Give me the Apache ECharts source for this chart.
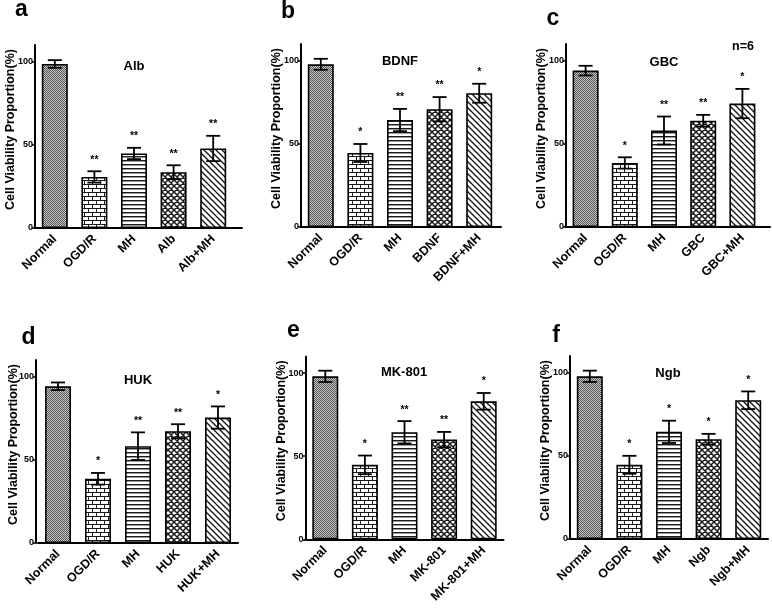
<!DOCTYPE html>
<html><head><meta charset="utf-8">
<script src="https://cdn.jsdelivr.net/npm/echarts@6/dist/echarts.min.js"></script>
<style>html,body{margin:0;padding:0;background:#fff}#c{width:772px;height:609px}</style>
</head><body><div id="c"></div>
<script>
// ---------- data ----------
const catsA = ['Normal','OGD/R','MH','Alb','Alb+MH'];
const meanA = [98.6, 30.7, 44.8, 33.5, 47.8];
const semA  = [2.3, 3.4, 3.4, 4.2, 7.6];
const starsA = ['', '**', '**', '**', '**'];

const catsB = ['Normal','OGD/R','MH','BDNF','BDNF+MH'];
const meanB = [97.8, 44.5, 64.3, 70.8, 80.4];
const semB  = [3.3, 5.4, 6.7, 7.3, 5.7];
const starsB = ['', '*', '**', '**', '*'];

const catsC = ['Normal','OGD/R','MH','GBC','GBC+MH'];
const meanC = [94.0, 38.5, 58.0, 63.9, 74.2];
const semC  = [2.9, 3.4, 8.4, 3.5, 8.8];
const starsC = ['', '*', '**', '**', '*'];

const catsD = ['Normal','OGD/R','MH','HUK','HUK+MH'];
const meanD = [94.2, 38.6, 58.2, 67.2, 75.4];
const semD  = [2.3, 3.5, 8.3, 4.2, 6.7];
const starsD = ['', '*', '**', '**', '*'];

const catsE = ['Normal','OGD/R','MH','MK-801','MK-801+MH'];
const meanE = [98.0, 44.8, 64.4, 60.0, 83.0];
const semE  = [3.4, 5.6, 6.7, 4.6, 5.0];
const starsE = ['', '*', '**', '**', '*'];

const catsF = ['Normal','OGD/R','MH','Ngb','Ngb+MH'];
const meanF = [97.8, 44.6, 64.4, 60.0, 83.4];
const semF  = [3.4, 5.4, 6.7, 3.2, 5.3];
const starsF = ['', '*', '*', '*', '*'];

const panelTitles = ['Alb','BDNF','GBC','HUK','MK-801','Ngb'];
const panelLetters = ['a','b','c','d','e','f'];
const yTicks = [0, 50, 100];
const yAxisName = 'Cell Viability Proportion(%)';
const noteText = 'n=6';

// ---------- patterns ----------
function mk(w, h, draw){
  const c = document.createElement('canvas'); c.width = w; c.height = h;
  const g = c.getContext('2d'); g.fillStyle = '#fff'; g.fillRect(0,0,w,h); draw(g, w, h);
  return {image: c, repeat: 'repeat'};
}
const patNormal = mk(2, 2, g => { g.fillStyle='#555'; g.fillRect(0,0,1,1); g.fillRect(1,1,1,1); g.fillStyle='#c8c8c8'; g.fillRect(1,0,1,1); g.fillRect(0,1,1,1); });
const patBrick = mk(8, 8, g => { g.fillStyle='#1a1a1a'; g.fillRect(0,0,8,1); g.fillRect(0,4,8,1); g.fillRect(0,0,1,4); g.fillRect(4,4,1,4); });
const patHoriz = mk(4, 4, g => { g.fillStyle='#1a1a1a'; g.fillRect(0,0,4,1); g.fillStyle='#999'; g.fillRect(0,1,4,1); });
const patCross = mk(6, 6, g => { g.strokeStyle='#1a1a1a'; g.lineWidth=1.5; g.beginPath();
  g.moveTo(-1,-1); g.lineTo(7,7); g.moveTo(-4,2); g.lineTo(2,8); g.moveTo(2,-4); g.lineTo(8,2);
  g.moveTo(7,-1); g.lineTo(-1,7); g.moveTo(10,2); g.lineTo(4,8); g.moveTo(4,-4); g.lineTo(-2,2); g.stroke(); });
const patDiag = mk(6, 6, g => { g.strokeStyle='#111'; g.lineWidth=1.3; g.beginPath(); g.moveTo(-1,-1); g.lineTo(7,7); g.moveTo(-4,2); g.lineTo(2,8); g.moveTo(2,-4); g.lineTo(8,2); g.stroke(); });
const patterns = [patNormal, patBrick, patHoriz, patCross, patDiag];

// ---------- layout ----------
const panels = [
  {cats: catsA, mean: meanA, sem: semA, stars: starsA},
  {cats: catsB, mean: meanB, sem: semB, stars: starsB},
  {cats: catsC, mean: meanC, sem: semC, stars: starsC},
  {cats: catsD, mean: meanD, sem: semD, stars: starsD},
  {cats: catsE, mean: meanE, sem: semE, stars: starsE},
  {cats: catsF, mean: meanF, sem: semF, stars: starsF}
];
const grids = [
  {left: 35,    top: 45,    width: 198, height: 183, yOff: 0, ext: 9},
  {left: 301,   top: 44,    width: 198, height: 183, yOff: 0, ext: 2},
  {left: 566,   top: 44,    width: 196, height: 183, yOff: 0, ext: 8},
  {left: 38,    top: 360,   width: 200, height: 183, yOff: 2, ext: 0},
  {left: 305.5, top: 356.4, width: 198, height: 183, yOff: 0, ext: 1.5},
  {left: 570,   top: 356,   width: 198, height: 183, yOff: 0, ext: 0}
];
const titlePos = [[134,66],[400,61],[664,62],[138,380],[404,372],[668,373]];
const letterPos = [[21.5,10],[288,12],[553,19],[28.5,338],[293.5,331],[556,336]];

const FONT = '"Liberation Sans", Arial, sans-serif';
const option = {
  animation: false,
  backgroundColor: '#fff',
  grid: [], xAxis: [], yAxis: [], series: [], graphic: []
};

panels.forEach((p, i) => {
  const g = grids[i];
  option.grid.push({left: g.left, top: g.top, width: g.width, height: g.height, containLabel: false});
  option.xAxis.push({
    type: 'category', gridIndex: i, data: p.cats,
    axisLine: {lineStyle: {color: '#000', width: 2}},
    axisTick: {alignWithLabel: true, length: 3, lineStyle: {color: '#000', width: 1.5}},
    axisLabel: {rotate: 45, fontSize: 12.5, fontWeight: 'bold', color: '#000', fontFamily: FONT, margin: 9, interval: 0},
    splitLine: {show: false}
  });
  option.yAxis.push({
    type: 'value', gridIndex: i, min: 0, max: 110, offset: g.yOff,
    name: yAxisName, nameLocation: 'middle', nameGap: 17.5 - g.yOff, nameMoveOverlap: false,
    nameTextStyle: {fontSize: 12.5, fontWeight: 'bold', color: '#000', fontFamily: FONT, padding: [0,0,0,14]},
    axisLine: {show: true, lineStyle: {color: '#000', width: 2}},
    axisTick: {show: true, length: 3, customValues: yTicks, lineStyle: {color: '#000', width: 1.5}},
    axisLabel: {fontSize: 9, fontWeight: 'bold', color: '#000', fontFamily: FONT, margin: 2, customValues: yTicks},
    splitLine: {show: false}
  });
  option.series.push({
    type: 'bar', xAxisIndex: i, yAxisIndex: i, barWidth: 26,
    data: p.mean.map((v, k) => ({value: v, itemStyle: {color: patterns[k], borderColor: '#000', borderWidth: 1.6}})),
    z: 2
  });
  const stars = p.stars;
  option.series.push({
    type: 'custom', xAxisIndex: i, yAxisIndex: i, z: 5,
    data: p.mean.map((v, k) => [k, v - p.sem[k], v + p.sem[k]]),
    renderItem: (params, api) => {
      const x = api.value(0), lo = api.value(1), hi = api.value(2);
      const a = api.coord([x, hi]), b = api.coord([x, lo]);
      const hw = 7;
      const st = {stroke: '#000', lineWidth: 1.8};
      const ch = [
        {type: 'line', shape: {x1: a[0], y1: a[1], x2: b[0], y2: b[1]}, style: st},
        {type: 'line', shape: {x1: a[0]-hw, y1: a[1], x2: a[0]+hw, y2: a[1]}, style: st},
        {type: 'line', shape: {x1: b[0]-hw, y1: b[1], x2: b[0]+hw, y2: b[1]}, style: st}
      ];
      const s = stars[params.dataIndex];
      if (s) ch.push({type: 'text', x: a[0], y: a[1] - 6, style: {text: s, fill: '#000', font: 'bold 10.5px ' + FONT, align: 'center', verticalAlign: 'bottom'}});
      return {type: 'group', children: ch};
    }
  });
  option.graphic.push({type: 'text', x: titlePos[i][0], y: titlePos[i][1], style: {text: panelTitles[i], fill: '#000', font: 'bold 13px ' + FONT, align: 'center', verticalAlign: 'middle'}});
  option.graphic.push({type: 'text', x: letterPos[i][0], y: letterPos[i][1], style: {text: panelLetters[i], fill: '#000', font: 'bold 23px ' + FONT, align: 'center', verticalAlign: 'middle'}});
});
// axis-line extensions past the last category (as in the original figure)
grids.forEach((g, i) => {
  if (g.ext < 2) return;
  const gi = option.grid.length;
  option.grid.push({left: g.left + g.width - 1, top: g.top, width: g.ext + 1, height: g.height});
  option.xAxis.push({type: 'value', gridIndex: gi, min: 0, max: 1, axisLine: {show: true, lineStyle: {color: '#000', width: 2}}, axisTick: {show: false}, axisLabel: {show: false}, splitLine: {show: false}});
  option.yAxis.push({type: 'value', gridIndex: gi, min: 0, max: 1, show: false});
});
option.graphic.push({type: 'text', x: 743, y: 47, style: {text: noteText, fill: '#000', font: 'bold 12.5px ' + FONT, align: 'center', verticalAlign: 'middle'}});

const chart = echarts.init(document.getElementById('c'), null, {renderer: 'canvas'});
chart.setOption(option);
</script>
</body></html>
